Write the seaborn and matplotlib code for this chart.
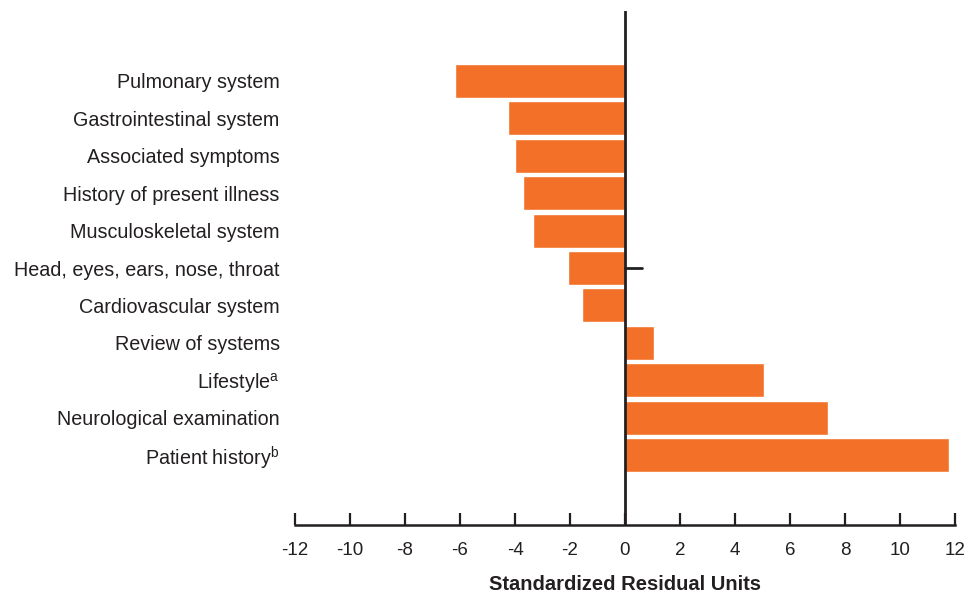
import matplotlib
matplotlib.use("Agg")
import matplotlib.pyplot as plt
import seaborn as sns
import pandas as pd

categories = [
    "Pulmonary system",
    "Gastrointestinal system",
    "Associated symptoms",
    "History of present illness",
    "Musculoskeletal system",
    "Head, eyes, ears, nose, throat",
    "Cardiovascular system",
    "Review of systems",
    "Lifestyle$^{\\mathrm{a}}$",
    "Neurological examination",
    "Patient history$^{\\mathrm{b}}$",
]
values = [-6.2, -4.25, -4.0, -3.7, -3.35, -2.07, -1.56, 1.05, 5.05, 7.38, 11.78]
x_ticks = list(range(-12, 13, 2))
marker_category = "Head, eyes, ears, nose, throat"
marker_length = 0.6

sns.set_theme(style="white")
plt.rcParams["font.family"] = ["Liberation Sans", "DejaVu Sans"]
plt.rcParams["mathtext.fontset"] = "custom"
plt.rcParams["mathtext.rm"] = "Liberation Sans"

df = pd.DataFrame({"category": categories, "value": values})

fig = plt.figure(figsize=(9.67, 5.97), dpi=100)
ax = fig.add_axes([295 / 967, 1 - 525 / 597, 660 / 967, (525 - 11) / 597])

sns.barplot(data=df, x="value", y="category", orient="h", color="#F37029",
            saturation=1, width=0.91, ax=ax)

ax.set_xlim(-12, 12)
ax.set_ylim(11.87, -1.87)
ax.set_xticks(x_ticks)
ax.set_xticklabels([str(t) for t in x_ticks])

line_color = "#231F20"
ax.axvline(0, color=line_color, lw=2, zorder=3)
idx = categories.index(marker_category)
ax.plot([0, marker_length], [idx, idx], color=line_color, lw=2, zorder=3)

for s in ["top", "right", "left"]:
    ax.spines[s].set_visible(False)
ax.spines["bottom"].set_color(line_color)
ax.spines["bottom"].set_linewidth(1.8)

ax.tick_params(axis="x", direction="in", length=8.5, width=1.6, color=line_color,
               labelsize=13.5, labelcolor="#231F20", pad=12, bottom=True)
ax.tick_params(axis="y", length=0, labelsize=14.2, labelcolor="#231F20", pad=11)
for lbl in ax.get_yticklabels():
    lbl.set_va("center_baseline")

ax.set_ylabel("")
ax.set_xlabel("Standardized Residual Units", fontsize=14.5, fontweight="bold",
              color="#231F20", labelpad=12)

fig.savefig("out.png", dpi=100)
